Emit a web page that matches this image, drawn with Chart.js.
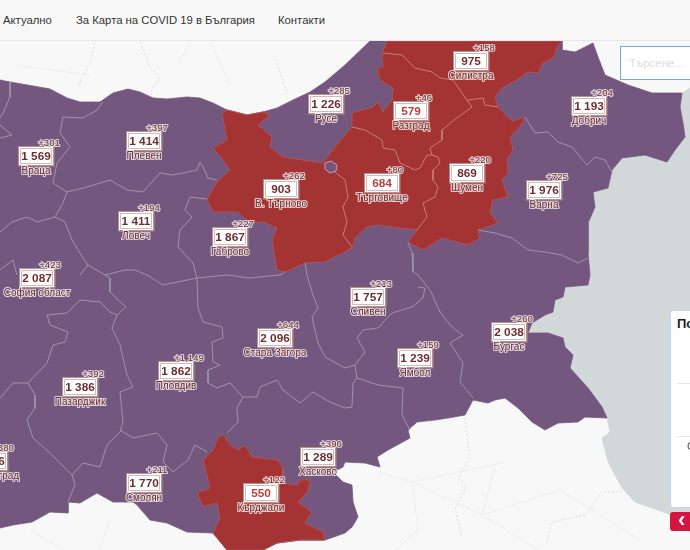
<!DOCTYPE html>
<html lang="bg"><head><meta charset="utf-8">
<script src="https://cdn.jsdelivr.net/npm/chart.js@4/dist/chart.umd.min.js"></script>
<style>
html,body{margin:0;padding:0;width:690px;height:550px;overflow:hidden;background:#f7f8f7;font-family:"Liberation Sans",Arial,sans-serif}
#map{position:absolute;left:0;top:0;filter:blur(.5px)}
#nav{position:absolute;left:0;top:0;width:690px;height:40px;background:#f8f8f8;border-bottom:1px solid #e7e7e7;color:#333;font-size:11.3px}
#nav span{position:absolute;top:14px;white-space:nowrap}
#search{position:absolute;left:620px;top:46px;width:80px;height:32px;background:#fff;border:1px solid #74a8d8;color:#dcdcdc;font-size:11.5px;line-height:32px;padding-left:8px;white-space:nowrap}
#panel{position:absolute;left:670px;top:310px;width:40px;height:196px;background:#fff;border:1px solid #bcd6ec;border-radius:3px;overflow:hidden;color:#333}
#panel b{position:absolute;left:6px;top:5px;font-size:13px;color:#222}
#panel i{position:absolute;left:6px;width:34px;height:1px;background:#e5e5e5}
#panel em{position:absolute;left:16px;top:129px;font-style:normal;font-size:11px;color:#555}
#toggle{position:absolute;left:670px;top:512px;width:30px;height:19px;background:#d5143f;border-radius:3px;color:#fff;font-size:22px;font-weight:bold;line-height:15px;padding-left:8px}
</style></head><body>
<canvas id="map" width="690" height="550"></canvas>
<div id="nav"><span style="left:3px">Актуално</span><span style="left:76px">За Карта на COVID 19 в България</span><span style="left:278px">Контакти</span></div>
<div id="search">Търсене...</div>
<div id="panel"><b>По</b><i style="top:72px"></i><i style="top:125px"></i><em>С</em></div>
<div id="toggle">‹</div>
<script>
// ---- map data (projected map coordinates) ----
const regionNames=["Враца","Плевен","В. Търново","Русе","Ловеч","Габрово","София област","Силистра","Разград","Търговище","Шумен","Добрич","Варна","Сливен","Ямбол","Бургас","Стара Загора","Пловдив","Пазарджик","Смолян","Хасково","Кърджали","Благоевград"];
const regionTotals=[1569,1414,903,1226,1411,1867,2087,975,579,684,869,1193,1976,1757,1239,2038,2096,1862,1386,1770,1289,550,1436];
const regionDeltas=[301,397,262,285,194,227,423,158,46,80,220,204,725,213,159,260,644,1149,392,211,396,122,380];
const labelX=[36,144,281,326,136,230,37,471,411,382,467,589,544,368,415,509,275,176,80,144,318,261,-10];
const labelY=[156,141,189,104,221,237,278,61,111,183,173,106,190,297,358,332,338,371,387,483,457,493,461];

const sea=[[682,93],[690,88],[690,532],[672,515],[635,502],[622,488],[608,462],[602,438],[610,432],[607,418],[500,330],[500,170],[600,150]];
const country=[[0,80],[10,82],[33,86],[50,89],[67,98],[80,102],[100,102],[113,93],[128,89],[140,92],[153,98],[167,99],[187,97],[200,98],[213,103],[227,110],[247,115],[263,112],[277,108],[293,100],[310,92],[325,82],[345,65],[370,41],[562,41],[562,50],[575,52],[593,43],[598,57],[605,75],[628,85],[652,93],[682,93],[680,107],[683,123],[685,137],[675,150],[667,162],[645,155],[622,158],[612,170],[608,188],[593,192],[595,207],[588,223],[588,253],[590,275],[588,285],[565,287],[563,297],[555,300],[553,312],[545,315],[532,323],[528,333],[548,333],[563,338],[565,347],[573,355],[570,368],[588,388],[602,407],[607,418],[585,417],[578,422],[558,423],[545,430],[532,422],[518,408],[505,398],[495,400],[488,403],[473,400],[465,415],[448,418],[435,420],[417,422],[408,430],[410,438],[388,450],[377,457],[380,467],[365,463],[345,462],[343,467],[333,472],[343,482],[352,485],[353,502],[358,517],[352,527],[345,533],[325,540],[300,540],[277,543],[263,550],[227,550],[213,533],[187,532],[167,523],[150,520],[137,505],[133,502],[113,502],[97,493],[80,503],[68,502],[68,513],[50,512],[32,522],[13,525],[0,528]];
const northRed=[[387,41],[562,41],[557,48],[553,58],[543,63],[538,73],[528,72],[517,80],[502,88],[495,97],[498,107],[508,117],[512,121],[525,117],[520,127],[510,137],[513,150],[507,160],[508,173],[502,180],[508,197],[493,200],[490,213],[498,223],[478,230],[480,238],[468,245],[442,238],[423,250],[408,242],[417,230],[392,227],[378,225],[367,227],[355,238],[353,247],[345,252],[325,262],[305,263],[285,272],[277,270],[272,240],[277,228],[263,222],[250,223],[238,212],[213,212],[207,199],[217,182],[230,170],[223,160],[213,148],[227,140],[222,113],[227,110],[247,115],[263,112],[270,115],[258,125],[272,137],[270,147],[283,157],[323,163],[325,160],[343,137],[352,127],[352,113],[373,107],[378,102],[383,112],[392,100],[393,88],[380,80],[377,68],[383,67],[382,53]];
const southRed=[[223,434],[230,445],[238,450],[245,445],[252,457],[278,460],[283,468],[283,483],[297,485],[300,480],[310,480],[308,492],[298,502],[312,512],[305,523],[323,532],[325,540],[300,540],[277,543],[263,550],[227,550],[213,533],[220,518],[217,503],[203,507],[197,493],[210,488],[203,460],[213,450],[218,438]];
const enclave=[[325,163],[331,161],[337,165],[336,171],[330,173],[325,169]];

const purpleBorders=[
 [[103,102],[97,110],[83,118],[63,117],[60,133],[70,147],[57,163],[53,183],[67,192],[87,187],[110,180],[127,190],[143,192],[160,173],[173,175],[197,170],[200,162],[203,167],[208,178],[217,180]],
 [[67,192],[63,203],[55,217],[65,222],[72,240],[83,258],[88,265],[105,275],[125,270],[135,270],[147,275],[163,285],[197,278],[227,275],[250,278],[280,275],[285,272]],
 [[190,197],[185,210],[192,217],[180,230],[178,247],[193,263],[197,278]],[[190,197],[207,199]],
 [[88,265],[80,275]],[[110,278],[110,292],[126,307],[117,315],[112,328],[120,345],[127,375],[133,387],[120,392],[123,422],[120,432]],[[105,275],[110,278]],
 [[10,82],[10,97],[3,113],[0,118]],[[0,125],[12,135],[0,138]],[[0,232],[12,222],[27,217],[37,222],[55,217]],[[0,270],[13,260],[17,275]],
 [[117,315],[110,312],[100,302],[80,300],[67,313],[47,315],[50,325],[68,332],[65,342],[53,345],[47,363],[28,383],[35,395],[35,408],[27,420],[33,438],[50,453],[72,475],[83,463],[100,467],[107,445],[120,432]],
 [[28,383],[13,383],[0,398]],[[72,475],[75,485],[68,502]],
 [[120,430],[133,438],[157,433],[167,445],[163,462],[173,472],[188,460],[195,445],[207,452]],
 [[197,278],[198,308],[203,322],[222,327],[223,338],[212,342],[213,362],[220,365],[208,370],[208,383],[217,388],[230,383],[243,397],[237,408],[238,422],[227,433]],
 [[243,397],[257,397],[260,387],[277,380],[283,390],[300,403],[313,392],[330,402],[345,408],[352,407],[353,383],[357,378],[378,385],[403,388],[402,415],[410,430]],
 [[357,378],[355,365],[365,352],[357,338],[363,330],[378,328],[387,318],[392,313],[412,307],[423,298],[425,288],[418,287]],
 [[408,242],[412,253],[413,272],[418,275],[430,290],[440,312],[452,327],[463,335],[450,343],[463,363],[460,382],[473,398]],
 [[305,263],[307,275],[313,295],[318,308],[312,317],[318,343],[325,357],[345,368],[355,365]],
 [[478,230],[495,233],[512,238],[528,250],[545,252],[562,255],[578,263],[588,258]],
 [[525,117],[535,133],[548,132],[558,142],[572,147],[587,165],[595,157],[605,160],[612,172]]
];
const redBorders=[
 [[383,53],[402,55],[415,68],[432,72],[440,78],[453,80],[462,93],[472,107]],
 [[468,100],[483,98],[485,105],[498,107]],
 [[472,107],[458,117],[442,130],[442,140],[430,148],[432,155],[438,157],[440,163],[433,170],[433,180],[438,187],[435,197],[423,203],[427,217],[417,230]],
 [[352,127],[365,130],[382,140],[383,148],[395,150],[400,163],[415,170],[420,168],[427,155],[432,155]],
 [[335,172],[345,180],[348,197],[343,207],[347,222],[343,235],[352,247]]
];
const pinkBorders=[
 [[95,43],[90,63],[77,87]],[[140,42],[150,67],[160,78],[153,87],[150,97]],[[277,63],[287,93]],
 [[465,418],[468,442],[470,458],[458,478],[467,485],[455,508],[462,538]],
 [[622,492],[602,492],[585,515],[552,522],[547,542]]
];
const roads=[
 [[378,472],[412,482],[502,463]],[[412,482],[482,515],[540,550]],[[495,468],[482,515]],[[412,482],[418,530],[395,550]],
 [[482,515],[560,490],[640,540]],[[180,60],[190,45]],[[20,66],[90,75]],[[210,42],[230,85]],[[30,530],[60,548]],[[110,520],[100,548]]
];

// ---- build chart datasets, bottom layer first ----
const poly=(pts,color)=>({data:pts,showLine:true,fill:'shape',backgroundColor:color,borderColor:color,borderWidth:.8,pointRadius:0,tension:0});
const stroke=(pts,color,w,dash)=>({data:pts,showLine:true,fill:false,borderColor:color,borderWidth:w,borderDash:dash||[],pointRadius:0,tension:0});
const PURPLE='#74577f',RED='#a33433';
const layers=[
 poly(sea,'#d2d7da'),
 ...roads.map(r=>stroke(r,'#eceeed',1)),
 ...pinkBorders.map(r=>stroke(r,'#ecd3d6',1,[2,2])),
 poly(country,PURPLE),
 poly(northRed,RED),
 poly(southRed,RED),
 poly(enclave,PURPLE),
 ...purpleBorders.map(r=>stroke(r,'#a093aa',1)),
 ...redBorders.map(r=>stroke(r,'#cb7d7a',1)),
 stroke(enclave.concat([enclave[0]]),'#c89aa4',1),
 stroke(northRed.concat([northRed[0]]),'#ab6670',.7),
 stroke(southRed.concat([southRed[0]]),'#ab6670',.7)
].reverse();

const fmt=n=>String(n).replace(/\B(?=(\d{3})+$)/g,' ');
const redLabels=["Разград","Търговище","Кърджали"];
const labelPlugin={id:'regionLabels',afterDatasetsDraw(chart){
 const c=chart.ctx,sx=chart.scales.x,sy=chart.scales.y;
 c.save();c.textAlign='center';c.textBaseline='middle';c.lineJoin='round';
 regionNames.forEach((name,i)=>{
  const x=sx.getPixelForValue(labelX[i]),y=sy.getPixelForValue(labelY[i]);
  const val=fmt(regionTotals[i]);
  const w=35,h=19;
  c.fillStyle='#b98f8c';c.fillRect(x-w/2-.5,y-h/2-.5,w+1.5,h+1.5);
  c.fillStyle='#fff';c.fillRect(x-w/2+.5,y-h/2+.5,w-1,h-1);
  c.strokeStyle='#c9a9a7';c.lineWidth=.8;c.strokeRect(x-w/2+2,y-h/2+2,w-4,h-4);
  c.fillStyle='#fff';c.fillRect(x-w/2+2.5,y-h/2+2.5,w-5,h-5);
  c.font='bold 11.8px "Liberation Sans"';
  c.fillStyle=redLabels.includes(name)?'#b5423f':'#6f2f31';
  c.fillText(val,x,y+.5);
  const halo=(t,tx,ty,font)=>{c.font=font;c.strokeStyle='rgba(255,255,255,.75)';c.lineWidth=2.2;c.strokeText(t,tx,ty);c.fillStyle='#6d2a2c';c.fillText(t,tx,ty);};
  halo(name,x,y+15.5,'10px "Liberation Sans"');
  halo('+'+fmt(regionDeltas[i]),x+13,y-13,'9.6px "Liberation Sans"');
 });
 c.restore();
}};

new Chart(document.getElementById('map'),{
 type:'scatter',
 data:{datasets:layers},
 options:{responsive:false,animation:false,devicePixelRatio:1,layout:{padding:0},
  plugins:{legend:{display:false},tooltip:{enabled:false},filler:{propagate:false}},
  scales:{x:{type:'linear',min:0,max:690,display:false},y:{type:'linear',min:0,max:550,reverse:true,display:false}}},
 plugins:[labelPlugin]
});
</script></body></html>
